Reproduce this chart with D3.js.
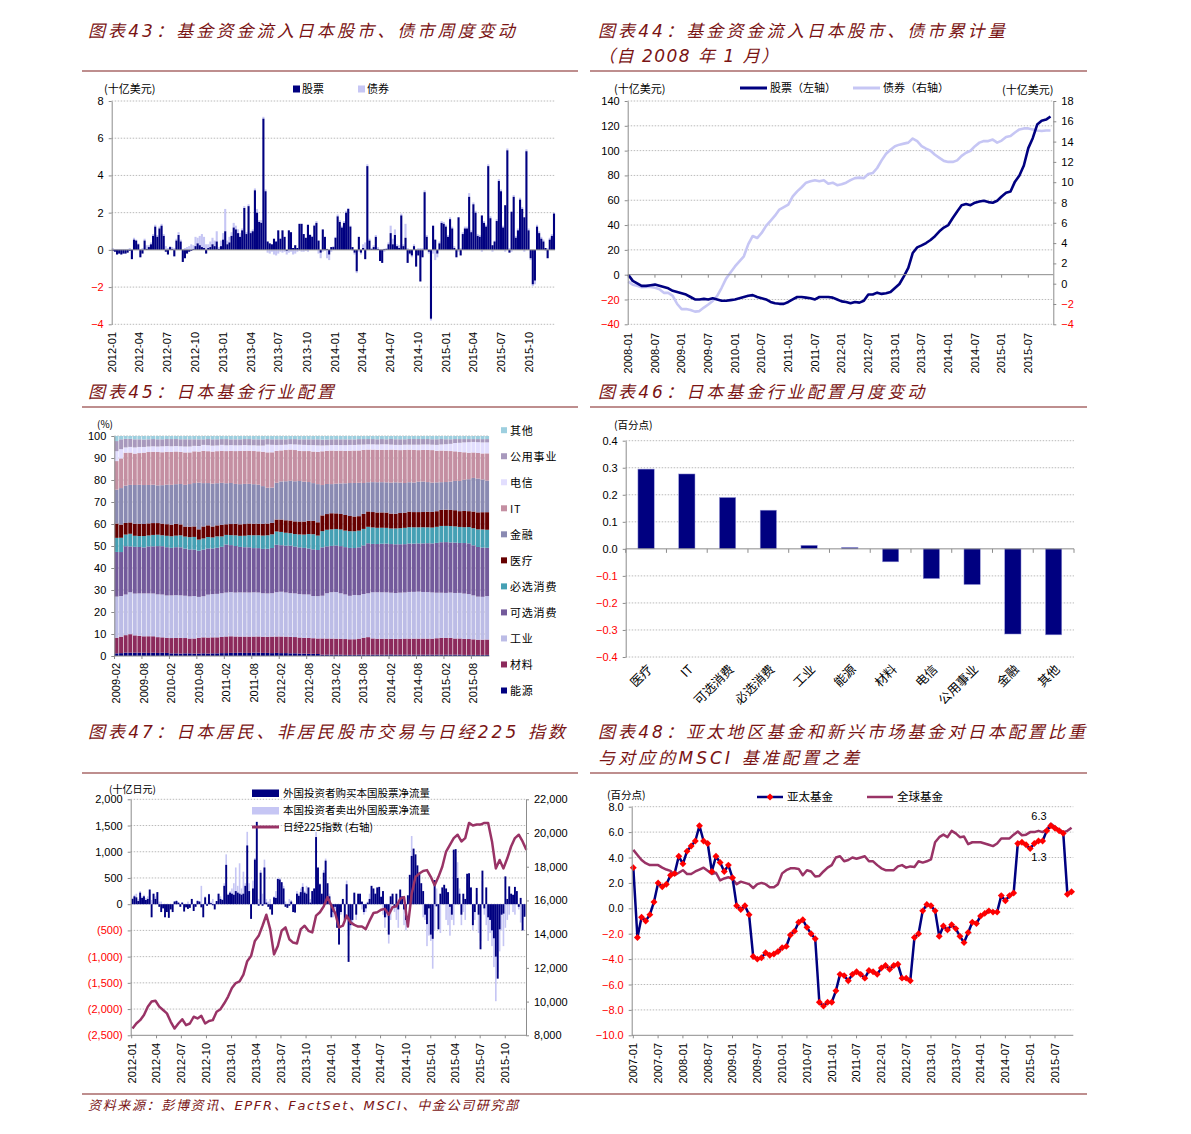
<!DOCTYPE html>
<html>
<head>
<meta charset="utf-8">
<script src="https://cdnjs.cloudflare.com/ajax/libs/d3/7.8.5/d3.min.js"></script>
<style>
  body { margin: 0; background: #fff; }
  text { font-family: "Liberation Sans", Arial, sans-serif; }
  .cn { font-family: "Noto Sans CJK SC", sans-serif; }
  .title { font-family: "DejaVu Sans", "Noto Sans CJK SC", sans-serif; font-style: italic; fill: #7a1414; font-size: 17px; letter-spacing: 3.1px; }
</style>
</head>
<body>
<div id="viz"></div>
<script>
// ---------- 图表43: weekly fund flows (十亿美元), 2012-01 .. 2015-12
var stock43 = [-0.05,-0.1,-0.25,-0.2,-0.25,-0.2,-0.2,-0.15,-0.05,-0.5,
  0.55,0.5,0.3,-0.4,-0.2,0.5,0.05,0.15,0.3,0.75,
  1.25,0.7,1.15,1.3,0.75,-0.1,-0.25,0.15,0.05,-0.35,
  0.5,0.8,0.45,-0.65,-0.45,-0.2,-0.1,-0.05,0.05,0.2,
  0.35,0.25,0.15,0.1,-0.2,0.1,0.15,0.3,0.2,0.45,
  0.05,0.2,0.55,1.0,0.3,0.4,0.75,1.2,1.1,0.9,
  0.7,1.05,2.25,0.85,2.35,0.9,1.0,3.2,2.0,1.5,
  1.45,7.05,3.15,0.45,0.35,0.3,0.6,0.45,1.05,0.6,
  1.05,0.7,-0.05,1.05,0.95,0.1,0.25,0.1,1.4,1.4,
  0.85,0.65,1.35,0.8,0.7,1.3,1.45,0.5,-0.15,1.1,
  0.7,0.05,-0.25,0.15,0.15,0.65,1.8,1.5,1.2,1.45,
  2.0,2.2,1.25,0.15,-0.15,-1.15,0.7,-0.15,0.1,-0.5,
  4.5,0.5,0.05,0.15,0.7,0.05,-0.6,-0.7,0.05,0.05,
  0.3,0.9,0.3,0.8,0.2,0.1,1.85,0.2,0.65,-0.7,
  -0.2,-0.3,0.2,-0.9,-0.3,-1.7,-0.4,3.1,0.7,-0.1,
  -3.7,1.3,0.55,-0.2,0.35,1.45,1.4,1.25,0.7,1.65,
  1.15,0.1,-0.4,1.75,-0.3,0.85,1.15,1.15,2.85,0.95,
  2.45,2.0,0.75,0.7,1.85,1.45,1.25,4.5,1.7,0.25,
  0.45,1.55,3.7,3.15,1.2,2.4,5.35,-0.15,2.05,2.85,
  0.65,1.05,2.7,2.2,1.75,5.3,1.05,-0.45,-1.85,-1.65,
  1.25,0.9,0.6,0.45,0.1,-0.45,0.55,0.75,1.95];
var bond43 = [0.1,0.05,0.05,0.05,0.05,0.05,0.05,0.05,0.1,0.05,0.1,0.05,0.05,0.05,0.1,0.1,0.2,0.1,0.1,0.1,
  0.1,0.1,0.1,0.1,0.1,0.2,0.1,0.05,0.1,0.1,0.1,0.15,0.1,0.05,0.1,0.15,
  0.2,0.3,0.2,0.5,0.3,0.5,0.7,0.6,0.3,0.2,0.3,0.35,0.3,0.55,0.1,0.3,0.35,1.2,0.2,0.3,0.2,0.25,0.2,0.2,0.2,
  0.1,0.1,0.1,0.1,0.1,0.1,0.1,0.2,0.1,0.15,0.1,0.1,-0.15,-0.2,-0.1,-0.25,-0.3,-0.2,-0.1,-0.15,
  -0.1,-0.2,-0.15,-0.1,-0.25,-0.2,-0.1,-0.05,-0.1,-0.1,-0.05,-0.1,0.05,0.05,0.05,0.1,-0.2,-0.3,-0.1,-0.05,
  -0.45,-0.3,-0.1,0.05,0.05,0.1,0.1,0.1,0.1,0.1,0.05,0.05,-0.05,-0.1,-0.1,-0.1,-0.1,0.2,0.4,0.1,0.1,0.05,0.1,0.1,0.1,0.05,0.05,-0.1,0.05,0.1,
  0.4,0.3,0.3,0.1,0.15,0.1,0.1,0.75,0.1,-0.05,-0.1,0.1,0.05,0.1,0.1,0.1,0.1,0.1,-0.1,-0.1,-0.2,-0.55,-0.2,0.1,0.1,0.1,0.1,0.1,0.1,0.1,
  0.1,0.05,-0.1,0.1,0.1,0.1,0.1,0.2,0.1,0.1,0.1,0.1,0.1,-0.1,0.1,0.1,0.1,0.1,-0.1,0.05,
  0.1,0.1,0.1,0.1,-0.1,0.1,0.1,-0.1,0.1,0.1,0.1,0.1,0.1,-0.1,0.1,0.1,-0.1,-0.1,-0.2,0.1,
  0.1,0.1,0.1,-0.05,0.1,0.1,0.1,0.05];
var yTicks43 = [-4, -2, 0, 2, 4, 6, 8];
var xLabels43 = ["2012-01","2012-04","2012-07","2012-10","2013-01","2013-04","2013-07","2013-10",
  "2014-01","2014-04","2014-07","2014-10","2015-01","2015-04","2015-07","2015-10"];

// ---------- 图表44: cumulative flows since 2008-01, monthly
var stock44 = [0,-5,-7,-9,-9,-8.5,-8,-9,-10,-11,-13,-14,
  -15,-16,-18,-20,-20,-19.5,-20,-19,-20,-21,-21,-20.5,
  -20,-19,-18,-17,-16.5,-18,-19,-20,-22,-23,-23.5,-23.5,
  -22,-20,-18,-18,-18.5,-19,-20,-18,-18,-18,-18.5,-20,
  -21.5,-22,-23,-22,-22.5,-21,-16,-16,-14.5,-15.5,-15,-14,
  -10.7,-7.5,-1.3,5.4,17.5,22,23.6,25.5,28,31,35,38,
  40,45.7,51,56,57,56,58,59,59.6,58.5,58,59.6,
  63,66,67,75,80,88,102,110,121,124,125,127.5];
var bond44 = [0.2,-0.1,-0.2,-0.35,-0.33,-0.33,-0.4,-0.55,-0.9,-0.9,
  -1.2,-2.0,-2.5,-2.5,-2.6,-2.75,-2.7,-2.35,-2.05,-1.7,
  -1.2,-0.4,0.5,1.1,1.7,2.2,2.7,3.9,4.7,4.5,
  5.0,5.7,6.2,6.7,7.3,7.55,7.8,8.6,9.1,9.5,
  9.95,10.1,10.2,10.1,10.2,9.85,9.95,9.7,9.8,9.95,
  10.2,10.4,10.45,10.4,10.8,10.9,11.4,12.15,12.8,13.2,
  13.55,13.7,13.8,13.9,14.3,14.05,13.55,13.3,13.1,12.7,
  12.4,12.1,12.0,12.0,12.15,12.6,12.9,13.1,13.55,13.9,
  14.05,14.05,14.2,13.9,14.1,14.45,14.55,14.9,15.2,15.3,
  15.3,15.2,15.1,15.05,15.1,15.1];
var yTicks44L = [-40,-20,0,20,40,60,80,100,120,140];
var yTicks44R = [-4,-2,0,2,4,6,8,10,12,14,16,18];
var xLabels44 = ["2008-01","2008-07","2009-01","2009-07","2010-01","2010-07","2011-01","2011-07",
  "2012-01","2012-07","2013-01","2013-07","2014-01","2014-07","2015-01","2015-07"];

// ---------- 图表45: sector weights (%), monthly 2009-02 .. 2015-11
var energy45 = [1.2,1.3,1.5,1.5,1.5,1.5,1.5,1.4,1.5,1.4, 1.5,1.4,1.2,1.2,1.1,1.2,1.2,1.1,1.1,1.2,
  1.1,1.2,1.2,1.3,1.3,1.4,1.4,1.5,1.4,1.4, 1.5,1.5,1.4,1.4,1.3,1.4,1.3,1.3,1.2,1.2,
  1.1,1.1,1.0,1.0,0.9,0.6,0.6,0.6,0.6,0.6, 0.5,0.5,0.5,0.6,0.6,0.6,0.6,0.6,0.6,0.6,
  0.7,0.6,0.6,0.6,0.6,0.6,0.6,0.6,0.6,0.6, 0.6,0.6,0.6,0.6,0.6,0.6,0.5,0.5,0.5,0.5, 0.5,0.5];
var materials45 = [7.1,7.5,8.0,8.5,7.9,7.7,7.5,7.6,7.5,7.2, 7.0,6.9,7.0,7.1,7.2,7.0,6.8,6.9,7.1,7.2,
  7.3,7.3,7.3,7.3,7.5,7.5,7.4,7.3,7.4,7.4, 7.3,7.3,7.3,7.3,7.5,7.4,7.5,7.4,7.4,7.3,
  7.2,7.1,7.2,7.0,7.0,7.2,7.3,7.3,7.3,7.2, 7.1,7.0,7.0,7.2,7.7,8.0,7.4,7.3,7.3,7.3,
  7.2,7.3,7.3,7.4,7.4,7.4,7.4,7.4,7.4,7.4, 7.6,7.8,7.8,7.7,7.4,7.4,7.3,7.2,7.1,6.9, 6.9,7.0];
var industrial45 = [18.7,18.5,18.5,19.2,19.0,19.4,19.6,19.5,19.5,19.5, 19.5,19.3,19.5,19.6,19.5,19.3,19.3,19.4,18.4,18.5,
  19.5,19.7,19.8,19.8,19.8,19.9,19.8,20.0,20.0,20.0, 20.0,19.8,19.6,19.6,19.7,20.0,20.2,19.8,19.6,19.6,
  19.5,19.6,19.6,19.0,19.1,19.0,20.5,21.0,21.2,20.5, 20.0,19.5,19.8,19.5,19.8,20.0,21.0,21.2,21.2,21.2,
  21.4,21.2,21.3,21.2,21.5,21.5,21.6,21.4,21.4,21.3, 21.0,20.8,20.8,20.8,20.8,20.8,20.6,20.4,20.0,19.5, 19.4,19.8];
var discretionary45 = [20.3,20.0,22.0,21.0,21.3,21.2,21.0,21.4,21.5,22.0, 22.0,22.0,21.7,22.0,22.0,21.5,21.5,21.2,20.8,21.0,
  21.0,20.8,21.0,21.0,21.7,21.2,21.0,20.6,20.5,20.5, 20.0,20.0,20.0,20.2,20.5,21.4,21.0,21.0,21.3,21.0,
  21.0,21.0,20.8,21.0,20.8,21.5,21.2,21.0,21.2,21.3, 21.2,21.5,21.0,21.5,22.0,22.8,22.0,22.0,22.2,22.3,
  22.5,22.5,22.3,22.2,22.3,22.2,22.2,22.3,22.5,22.6, 23.0,23.3,23.5,23.0,23.0,22.8,23.0,23.0,22.8,22.5, 22.3,22.0];
var staples45 = [6.4,6.5,5.3,5.8,5.0,5.0,5.2,5.0,5.2,5.2, 5.0,5.2,5.3,5.3,5.5,5.5,5.6,5.8,5.0,5.0,
  5.2,5.0,5.2,4.7,4.3,4.5,4.8,5.0,5.2,5.5, 5.8,5.8,6.0,6.1,6.2,6.0,6.0,5.8,5.6,5.6,
  5.8,6.0,6.5,6.8,6.5,7.2,7.5,7.5,7.5,7.5, 7.4,7.5,7.5,7.5,7.5,7.5,7.5,7.4,7.3,7.2,
  7.2,7.3,7.4,7.5,7.5,7.5,7.4,7.4,7.3,7.3, 7.4,7.5,7.5,7.5,7.4,7.3,7.2,7.4,7.8,8.0, 8.2,8.2];
var health45 = [6.5,6.0,5.3,5.2,5.5,5.6,5.5,5.5,5.4,5.3, 5.3,5.3,5.3,5.4,5.0,4.6,4.8,4.8,4.6,5.4,
  5.3,5.0,5.0,5.2,4.8,5.0,5.2,5.2,5.3,5.3, 5.2,5.2,5.3,5.3,5.2,5.4,5.6,5.6,5.7,5.7,
  5.8,5.9,6.0,6.0,6.0,7.0,7.1,7.3,7.1,7.0, 7.0,6.8,6.6,6.5,6.8,7.0,7.0,7.0,7.0,7.0,
  6.9,6.8,7.0,7.0,7.2,7.0,7.0,7.0,7.2,7.2, 7.2,7.4,7.5,7.4,7.4,7.2,7.4,7.2,7.6,7.7, 7.8,8.0];
var finance45 = [15.4,16.6,17.0,17.2,17.6,17.8,17.8,17.5,17.5,17.2, 17.5,18.0,18.2,18.2,18.5,19.0,19.5,19.8,21.0,19.5,
  19.2,19.5,19.2,19.0,18.5,18.5,18.0,18.2,18.2,18.0, 17.9,17.6,17.0,16.2,16.0,16.6,17.2,17.5,17.8,18.0,
  18.2,18.0,17.5,17.0,17.2,13.5,13.6,13.2,13.5,13.8, 14.2,14.8,15.0,15.0,14.0,13.3,13.6,13.8,13.8,13.8,
  14.3,14.5,14.0,13.6,13.5,13.6,14.0,14.0,13.6,13.5, 13.3,12.8,12.8,13.0,13.4,13.8,14.2,14.5,15.3,15.3, 14.8,14.4];
var it45 = [13.0,13.5,15.0,14.8,14.3,14.5,14.8,15.0,15.0,15.2, 15.0,15.0,15.0,15.0,14.7,14.8,14.5,14.5,14.0,14.5,
  14.5,14.6,14.6,14.5,14.5,14.5,14.8,15.0,15.0,15.0, 15.0,15.0,15.5,16.0,16.0,14.4,14.0,14.0,14.0,14.0,
  13.5,13.8,14.0,14.2,14.5,15.0,15.0,15.2,15.0,14.8, 14.5,14.5,14.5,14.5,15.0,14.9,14.8,14.8,14.8,14.8,
  15.3,15.0,15.0,15.2,15.0,15.0,14.5,14.5,14.8,15.0, 14.6,14.6,14.5,14.0,13.5,13.2,12.5,12.0,11.6,11.6, 11.8,12.4];
var telecom45 = [4.5,4.2,2.4,2.6,2.8,2.8,2.6,2.5,2.5,2.5, 2.7,2.6,2.6,2.5,2.6,2.7,2.7,2.5,2.5,2.7,
  2.7,2.7,2.6,2.7,2.6,2.6,2.6,2.6,2.6,2.5, 2.6,2.6,2.8,3.5,3.4,2.6,2.5,2.4,2.4,2.5,
  2.8,2.8,2.7,2.9,3.0,2.6,2.5,2.5,2.6,2.5, 2.6,2.6,2.5,2.6,2.4,2.4,2.4,2.4,2.5,2.6,
  2.3,2.3,2.4,2.4,2.3,2.4,2.5,2.5,2.5,2.5, 2.7,2.8,3.0,3.3,3.8,4.2,4.5,4.8,4.8,4.9, 5.0,5.0];
var utilities45 = [4.6,4.5,3.9,3.7,3.7,3.5,3.4,3.3,3.3,3.3, 3.2,3.2,3.3,3.2,3.2,3.3,3.3,3.0,3.0,2.5,
  2.8,2.9,2.8,2.6,2.8,2.6,2.7,2.7,2.7,2.8, 2.7,2.8,2.8,2.5,2.5,2.6,2.5,2.4,2.3,2.4,
  2.4,2.5,2.6,2.6,2.7,2.6,2.6,2.6,2.6,2.6, 2.6,2.5,2.5,2.5,2.5,2.4,2.4,2.4,2.4,2.3,
  2.6,2.6,2.6,2.5,2.6,2.6,2.6,2.5,2.5,2.5, 2.6,2.5,2.3,2.1,1.8,1.7,1.5,1.4,1.3,1.4, 1.5,1.5];
var other45 = [2.3,1.5,1.3,1.3,1.5,1.5,1.6,1.5,1.4,1.5, 1.5,1.4,1.4,1.4,1.5,1.5,1.5,1.5,1.5,1.5,
  1.4,1.5,1.5,1.4,1.4,1.5,1.5,1.5,1.4,1.4, 1.5,1.5,1.5,1.4,1.5,1.5,1.5,1.5,1.4,1.4,
  1.5,1.5,1.5,1.5,1.5,1.6,1.6,1.5,1.5,1.5, 1.5,1.5,1.5,1.4,1.4,1.4,1.4,1.5,1.4,1.5,
  1.4,1.5,1.5,1.5,1.4,1.4,1.4,1.4,1.4,1.5, 1.5,1.4,1.5,1.5,1.4,1.4,1.4,1.4,1.4,1.4, 1.4,1.4];
var sectors45 = ["能源","材料","工业","可选消费","必选消费","医疗","金融","IT","电信","公用事业","其他"];
var xLabels45 = ["2009-02","2009-08","2010-02","2010-08","2011-02","2011-08","2012-02","2012-08",
  "2013-02","2013-08","2014-02","2014-08","2015-02","2015-08"];
var yTicks45 = [0,10,20,30,40,50,60,70,80,90,100];

// ---------- 图表46: monthly change in sector weight (百分点)
var cats46 = ["医疗","IT","可选消费","必选消费","工业","能源","材料","电信","公用事业","金融","其他"];
var vals46 = [0.295,0.277,0.19,0.143,0.013,0.005,-0.048,-0.11,-0.132,-0.315,-0.318];
var yTicks46 = [-0.4,-0.3,-0.2,-0.1,0,0.1,0.2,0.3,0.4];

// ---------- 图表47: weekly flows (十亿日元) and Nikkei 225, 2012-01 .. 2015-12
var foreignBuy47 = [100,150,130,60,220,120,150,80,100,280,
  -250,200,100,230,-50,-150,-80,-250,-150,-260,
  -100,-150,50,60,30,-50,30,-140,-60,-90,
  -70,100,-130,-50,60,50,-60,-250,130,-30,
  190,20,-20,-100,60,200,100,80,350,750,
  180,220,200,180,250,220,200,180,200,350,
  1120,250,-280,300,850,1570,-30,600,-30,700,
  30,-50,-100,-200,130,120,480,470,420,300,
  -50,-70,-30,50,-150,-160,200,160,230,330,
  220,200,320,30,250,300,1280,700,380,200,
  600,830,400,150,-250,-150,-50,-450,-770,-150,
  100,-300,380,-1100,-400,-300,220,-200,200,200,
  50,-150,-80,30,100,350,300,200,320,330,
  140,250,-250,-150,-580,150,200,-50,200,-100,
  280,150,-100,-300,170,560,920,1060,950,740,
  600,400,250,-200,-380,-80,-580,-660,460,-40,
  -480,200,320,370,300,230,-50,-200,1040,1050,
  500,200,-200,200,100,580,590,320,-400,-150,
  310,-200,-860,640,-80,320,-250,-300,-500,-650,
  -1000,-1420,-480,-200,-180,530,100,340,200,180,
  330,250,-50,120,-500,-240];
var domesticSell47 = [120,180,200,100,250,150,180,120,150,230,80,200,150,230,50,
  50,-50,-120,-100,-200,-80,-100,60,80,30,-40,40,-60,-30,50,-50,100,-80,-30,80,60,
  350,-100,150,30,200,50,100,-60,50,200,150,100,
  400,950,200,250,300,400,700,350,780,300,620,400,1380,400,-100,
  450,880,1400,100,650,200,850,100,50,100,-100,
  150,250,500,500,400,350,50,-50,100,80,-100,-100,250,200,300,400,250,350,300,100,250,300,
  1380,600,400,150,650,870,350,200,-200,-250,-100,-350,-500,-200,50,
  -350,450,-600,-500,-400,200,-300,100,150,-100,-200,-150,50,200,300,280,200,300,300,150,
  -200,-450,-250,-750,-300,150,-150,-300,-450,250,100,-400,-500,150,500,1300,900,800,500,300,
  300,-250,-300,-800,-600,-700,-1230,-500,300,-300,-550,150,250,-300,-400,-600,-300,-400,900,800,
  300,-400,-150,-300,400,450,200,-500,-300,200,-550,-700,450,-200,-400,-700,-550,-800,-1200,-1850,
  -1300,-900,-500,-800,-450,-300,-200,200,-150,-200,150,-100,-350,-300,-200];
// Nikkei 225, one reading every two weeks
var nikkei47 = [8400,8700,8900,9200,9700,10000,10050,9700,9500,9300,
  8800,8400,8700,8950,8600,8700,9100,9000,9150,8700,
  8850,8900,9400,9550,9900,10300,10800,11100,11200,11600,
  12400,12700,13600,13900,14500,15150,14300,12800,13300,14200,
  14400,13700,13500,13450,14300,14500,14200,14100,15100,15300,
  15650,16200,15700,15250,14400,14500,15100,14700,14550,14450,
  14450,14300,14800,15250,15300,15450,15500,15150,15600,15650,
  16100,16200,14450,16400,17400,17600,17750,17800,17400,16900,
  17400,18000,18900,19300,19700,19900,19500,19700,20600,20450,
  20500,20500,20600,20600,19500,17900,18400,17900,18500,19200,
  19700,19900,19500,19000];
var yTicks47L = [-2500,-2000,-1500,-1000,-500,0,500,1000,1500,2000];
var yTicks47R = [8000,10000,12000,14000,16000,18000,20000,22000];
var xLabels47 = xLabels43;

// ---------- 图表48: allocation vs MSCI benchmark (百分点), monthly 2007-01 .. 2015-11
var asiaPac48 = [3.2,-2.3,-0.7,-1.0,-0.5,0.5,2.0,1.7,1.9,2.6,2.75,4.1,
  3.5,4.5,4.9,5.3,6.5,5.3,5.1,2.9,4.1,3.6,2.9,3.4,
  2.4,0.2,-0.1,0.2,-0.5,-3.8,-4.0,-3.9,-3.5,-3.7,-3.6,-3.4,
  -3.1,-3.0,-2.1,-1.8,-1.1,-0.9,-1.5,-2.0,-2.4,-7.4,-7.7,-7.4,
  -7.4,-6.5,-5.2,-5.3,-5.7,-5.2,-5.0,-5.2,-5.5,-4.9,-5.0,-5.2,
  -4.7,-4.5,-4.8,-4.5,-4.4,-5.5,-5.5,-5.7,-2.3,-2.0,-0.2,0.3,
  0.2,-0.2,-2.2,-1.4,-1.7,-1.3,-1.6,-2.2,-2.7,-1.9,-1.1,-1.2,
  -0.6,-0.4,-0.2,-0.3,-0.3,1.0,0.6,1.0,1.2,5.1,5.2,5.0,
  4.7,5.1,5.3,5.3,6.1,6.5,6.3,6.1,5.9,1.1,1.3];
var global48 = [4.6,4.2,3.8,3.55,3.4,3.4,3.4,3.2,3.05,2.95,2.6,2.8,
  3.0,2.7,2.7,2.9,3.05,3.2,2.95,2.7,2.8,2.2,2.35,2.45,
  2.3,1.9,2.1,2.0,1.9,1.6,1.9,2.0,1.9,1.65,1.65,1.9,
  2.75,3.0,3.15,3.15,3.1,2.6,3.0,2.9,2.5,2.55,2.9,3.2,
  3.4,4.0,4.1,3.7,3.8,4.0,3.9,4.0,4.1,3.7,3.7,3.4,
  3.15,3.0,3.0,3.0,3.3,3.4,3.2,3.3,3.25,3.7,3.6,3.7,
  3.85,5.2,5.6,5.8,5.6,6.1,5.9,5.6,5.65,5.05,5.2,5.2,
  5.2,5.1,5.0,4.9,5.1,5.5,5.5,5.5,5.8,6.05,5.75,5.8,
  6.0,6.0,6.1,6.0,6.2,6.65,6.4,6.2,6.0,6.1,6.35];
var yTicks48 = [-10,-8,-6,-4,-2,0,2,4,6,8];
var xLabels48 = ["2007-01","2007-07","2008-01","2008-07","2009-01","2009-07","2010-01","2010-07","2011-01",
  "2011-07","2012-01","2012-07","2013-01","2013-07","2014-01","2014-07","2015-01","2015-07"];

// ---------------------------------------------------------------
var NAVY = "#000080", LAV = "#c6c6f4", PLUM = "#993366", RED = "#ff0000", AX = "#8c8c8c";
var svg = d3.select("#viz").append("svg").attr("width", 1191).attr("height", 1134);
var parseM = d3.timeParse("%Y-%m");
function monthIndex(s, y0, m0) { var p = s.split("-"); return (+p[0] - y0) * 12 + (+p[1] - m0); }

function title(x, y, txt) {
  return svg.append("text").attr("class", "title").attr("x", x).attr("y", y).text(txt);
}
function rule(x1, x2, y) {
  svg.append("line").attr("x1", x1).attr("x2", x2).attr("y1", y).attr("y2", y)
    .attr("stroke", "#7f1f1f").attr("stroke-width", 1.2);
}
function grid(scale, ticks, x0, x1) {
  svg.append("g").selectAll("line").data(ticks).join("line")
    .attr("x1", x0).attr("x2", x1).attr("y1", d => scale(d)).attr("y2", d => scale(d))
    .attr("stroke", "#a8a8a8").attr("stroke-width", 0.8).attr("stroke-dasharray", "1.5,1.5");
}
function yAxis(scale, x, ticks, fmt, right) {
  var ax = (right ? d3.axisRight(scale) : d3.axisLeft(scale))
    .tickValues(ticks).tickFormat(fmt).tickSize(3).tickSizeOuter(0).tickPadding(5);
  var g = svg.append("g").attr("transform", "translate(" + x + ",0)").call(ax);
  g.select(".domain").attr("stroke", AX);
  g.selectAll(".tick line").attr("stroke", AX);
  g.selectAll(".tick text").attr("font-size", 11).attr("font-family", "Liberation Sans, Arial, sans-serif")
    .attr("fill", d => d < 0 ? RED : "#000");
  return g;
}
function hLine(x0, x1, y) {
  svg.append("line").attr("x1", x0).attr("x2", x1).attr("y1", y).attr("y2", y)
    .attr("stroke", AX).attr("stroke-width", 1);
}
function xTicks(xs, y, len) {
  svg.append("g").selectAll("line").data(xs).join("line")
    .attr("x1", d => d).attr("x2", d => d).attr("y1", y).attr("y2", y + len)
    .attr("stroke", AX);
}
function rotLabels(data, xf, y) {
  svg.append("g").selectAll("text").data(data).join("text")
    .attr("transform", d => "translate(" + xf(d) + "," + y + ") rotate(-90)")
    .attr("text-anchor", "end").attr("dy", "0.35em").attr("font-size", 11).text(d => d);
}
function cnText(x, y, txt, size, anchor) {
  return svg.append("text").attr("class", "cn").attr("x", x).attr("y", y).attr("dy", "0.35em")
    .attr("font-size", size || 11).attr("text-anchor", anchor || "start").text(txt);
}

// ---------------- titles & rules
title(88, 37, "图表43：基金资金流入日本股市、债市周度变动");
title(598, 37, "图表44：基金资金流入日本股市、债市累计量");
title(598, 62, "（自 2008 年 1 月）").style("letter-spacing", "1.5px");
rule(82, 578, 71); rule(590, 1087, 71);
title(88, 398, "图表45：日本基金行业配置");
title(598, 398, "图表46：日本基金行业配置月度变动");
rule(82, 578, 407); rule(590, 1087, 407);
title(88, 738, "图表47：日本居民、非居民股市交易与日经225 指数");
title(598, 738, "图表48：亚太地区基金和新兴市场基金对日本配置比重");
title(598, 764, "与对应的MSCI 基准配置之差");
rule(82, 578, 773); rule(590, 1087, 773);
rule(82, 1087, 1094);
title(88, 1110, "资料来源：彭博资讯、EPFR、FactSet、MSCI、中金公司研究部")
  .style("font-size", "13px").style("letter-spacing", "1.65px");

// ---------------- 图表43
(function () {
  var y = d3.scaleLinear().domain([-4, 8]).range([324.3, 101]);
  var x = d3.scaleLinear().domain([0, stock43.length - 1]).range([112.8, 554]);
  var t = d3.scaleTime().domain([new Date(2012, 0, 1), new Date(2015, 11, 24)]).range([111.7, 555]);
  grid(y, yTicks43.filter(d => d !== 0), 111.7, 555);
  var g = svg.append("g");
  g.selectAll(".bd").data(bond43).join("rect")
    .attr("x", (d, i) => x(i) - 1.05).attr("width", 2.1)
    .attr("y", (d, i) => { var s = stock43[i], b = s * d > 0 ? s : 0; return y(Math.max(b, b + d)); })
    .attr("height", d => Math.abs(y(0) - y(d)))
    .attr("fill", LAV);
  g.selectAll(".st").data(stock43).join("rect")
    .attr("x", (d, i) => x(i) - 1.05).attr("width", 2.1)
    .attr("y", d => y(Math.max(0, d))).attr("height", d => Math.abs(y(d) - y(0)))
    .attr("fill", NAVY);
  hLine(111.7, 555, y(0));
  yAxis(y, 111.7, yTicks43, d3.format("d"));
  rotLabels(xLabels43, d => t(parseM(d)), 332);
  cnText(104, 89, "(十亿美元)");
  svg.append("rect").attr("x", 293).attr("y", 85.5).attr("width", 7).attr("height", 7).attr("fill", NAVY);
  cnText(302, 89, "股票");
  svg.append("rect").attr("x", 358).attr("y", 85.5).attr("width", 7).attr("height", 7).attr("fill", LAV);
  cnText(367, 89, "债券");
})();

// ---------------- 图表44
(function () {
  var yL = d3.scaleLinear().domain([-40, 140]).range([324.3, 101]);
  var yR = d3.scaleLinear().domain([-4, 18]).range([324.3, 101]);
  var x = d3.scaleLinear().domain([0, 90]).range([628.3, 1028.3]);
  grid(yL, yTicks44L.filter(d => d !== 0), 627.7, 1053.3);
  var lineR = d3.line().x((d, i) => x(i)).y(d => yR(d));
  var lineL = d3.line().x((d, i) => x(i)).y(d => yL(d));
  svg.append("path").datum(bond44).attr("d", lineR).attr("fill", "none")
    .attr("stroke", LAV).attr("stroke-width", 2.6).attr("stroke-linejoin", "round");
  svg.append("path").datum(stock44).attr("d", lineL).attr("fill", "none")
    .attr("stroke", NAVY).attr("stroke-width", 2.6).attr("stroke-linejoin", "round");
  hLine(627.7, 1053.3, yL(0));
  xTicks(xLabels44.map(s => x(monthIndex(s, 2008, 1))), yL(0), 3);
  yAxis(yL, 627.7, yTicks44L, d3.format("d"));
  yAxis(yR, 1053.3, yTicks44R, d3.format("d"), true);
  rotLabels(xLabels44, d => x(monthIndex(d, 2008, 1)), 333);
  cnText(614, 89, "(十亿美元)");
  cnText(1002, 90, "(十亿美元)");
  svg.append("line").attr("x1", 740).attr("x2", 767).attr("y1", 88).attr("y2", 88).attr("stroke", NAVY).attr("stroke-width", 3);
  cnText(770, 88, "股票（左轴）");
  svg.append("line").attr("x1", 853).attr("x2", 880).attr("y1", 88).attr("y2", 88).attr("stroke", LAV).attr("stroke-width", 3);
  cnText(883, 88, "债券（右轴）");
})();

// ---------------- 图表45
(function () {
  var series = [energy45, materials45, industrial45, discretionary45, staples45, health45,
    finance45, it45, telecom45, utilities45, other45];
  var colors = ["#000080", "#8c2a5c", "#bcbce6", "#735a9b", "#45a0b4", "#660000",
    "#8a8ab2", "#c48fa2", "#e2defe", "#a899bd", "#9dcfdf"];
  var rows = d3.range(energy45.length).map(i => {
    var o = {}; sectors45.forEach((k, j) => o[k] = series[j][i]); return o;
  });
  var stacked = d3.stack().keys(sectors45).offset(d3.stackOffsetExpand)(rows);
  var x = d3.scaleBand().domain(d3.range(rows.length)).range([114.3, 489.3]).paddingInner(0.14).paddingOuter(0.05);
  var y = d3.scaleLinear().domain([0, 1]).range([656, 436]);
  var yP = d3.scaleLinear().domain([0, 100]).range([656, 436]);
  grid(yP, yTicks45.filter(d => d > 0), 114.3, 489.3);
  svg.append("g").selectAll("g").data(stacked).join("g").attr("fill", (d, i) => colors[i])
    .selectAll("rect").data(d => d).join("rect")
    .attr("x", (d, i) => x(i)).attr("width", x.bandwidth())
    .attr("y", d => y(d[1])).attr("height", d => y(d[0]) - y(d[1]));
  hLine(114.3, 489.3, 656);
  xTicks(xLabels45.map((s, i) => x(i * 6)), 656, 3);
  yAxis(yP, 114.3, yTicks45, d3.format("d"));
  rotLabels(xLabels45, d => x(xLabels45.indexOf(d) * 6) + x.bandwidth() / 2, 663);
  cnText(97, 424, "(%)", 10);
  var leg = sectors45.slice().reverse();
  var lcol = colors.slice().reverse();
  leg.forEach((k, i) => {
    var yy = 430.7 + i * 26.03;
    svg.append("rect").attr("x", 501).attr("y", yy - 3.5).attr("width", 6).attr("height", 6).attr("fill", lcol[i]);
    cnText(510, yy, k, 11).attr("letter-spacing", 0.8);
  });
})();

// ---------------- 图表46
(function () {
  var y = d3.scaleLinear().domain([-0.4, 0.4]).range([657, 440.7]);
  var x = d3.scaleBand().domain(cats46).range([625.7, 1074]).paddingInner(0.6).paddingOuter(0.3);
  grid(y, yTicks46.filter(d => d !== 0), 625.7, 1074);
  svg.append("g").selectAll("rect").data(vals46).join("rect")
    .attr("x", (d, i) => x(cats46[i])).attr("width", x.bandwidth())
    .attr("y", d => y(Math.max(0, d))).attr("height", d => Math.abs(y(d) - y(0)))
    .attr("fill", NAVY).attr("stroke", "#9a9ad8").attr("stroke-width", 0.5);
  hLine(625.7, 1074, y(0));
  xTicks(d3.range(cats46.length + 1).map(i => 625.7 + i * x.step()), y(0), 4);
  yAxis(y, 625.7, yTicks46, d3.format(".1f"));
  svg.append("g").selectAll("text").data(cats46).join("text").attr("class", "cn")
    .attr("transform", d => "translate(" + (x(d) + x.bandwidth() / 2 + 4) + ",667) rotate(-45)")
    .attr("text-anchor", "end").attr("dy", "0.35em").attr("font-size", 12.5).text(d => d);
  cnText(614, 425, "(百分点)", 10.5);
})();

// ---------------- 图表47
(function () {
  var yL = d3.scaleLinear().domain([-2500, 2000]).range([1035.3, 799.3]);
  var yR = d3.scaleLinear().domain([8000, 22000]).range([1035.3, 799.3]);
  var x = d3.scaleLinear().domain([0, foreignBuy47.length - 1]).range([132.5, 524.5]);
  var t = d3.scaleTime().domain([new Date(2012, 0, 1), new Date(2015, 11, 16)]).range([131.7, 526]);
  grid(yL, yTicks47L.filter(d => d > -2500), 130.7, 526);
  svg.append("g").selectAll("rect").data(domesticSell47).join("rect")
    .attr("x", (d, i) => x(i) - 0.8).attr("width", 1.6)
    .attr("y", d => yL(Math.max(0, d))).attr("height", d => Math.abs(yL(d) - yL(0)))
    .attr("fill", LAV);
  svg.append("g").selectAll("rect").data(foreignBuy47).join("rect")
    .attr("x", (d, i) => x(i) - 0.95).attr("width", 1.9)
    .attr("y", d => yL(Math.max(0, d))).attr("height", d => Math.abs(yL(d) - yL(0)))
    .attr("fill", NAVY);
  var line = d3.line().x((d, i) => x(i * 2)).y(d => yR(d));
  svg.append("path").datum(nikkei47).attr("d", line).attr("fill", "none")
    .attr("stroke", PLUM).attr("stroke-width", 2.5).attr("stroke-linejoin", "round");
  hLine(130.7, 526, 1035.3);
  xTicks(xLabels47.map(s => t(parseM(s))), 1035.3, 3);
  var fmt = d3.format(",");
  yAxis(yL, 130.7, yTicks47L, d => d < 0 ? "(" + fmt(-d) + ")" : fmt(d));
  yAxis(yR, 526, yTicks47R, fmt, true);
  rotLabels(xLabels47, d => t(parseM(d)), 1043);
  cnText(109, 789, "(十亿日元)", 10);
  svg.append("rect").attr("x", 252).attr("y", 789.5).attr("width", 27).attr("height", 7.5).attr("fill", NAVY);
  cnText(283, 793, "外国投资者购买本国股票净流量", 10.5);
  svg.append("rect").attr("x", 252).attr("y", 807).attr("width", 27).attr("height", 7.5).attr("fill", LAV);
  cnText(283, 810.5, "本国投资者卖出外国股票净流量", 10.5);
  svg.append("line").attr("x1", 252).attr("x2", 279).attr("y1", 827).attr("y2", 827).attr("stroke", PLUM).attr("stroke-width", 3);
  cnText(283, 827.5, "日经225指数 (右轴)", 10.5);
})();

// ---------------- 图表48
(function () {
  var y = d3.scaleLinear().domain([-10, 8]).range([1035.3, 806.7]);
  var x = d3.scaleLinear().domain([0, 102]).range([633.3, 1055]);
  grid(y, yTicks48.filter(d => d > -10), 631.7, 1073.3);
  var line = d3.line().x((d, i) => x(i)).y(d => y(d));
  svg.append("path").datum(global48).attr("d", line).attr("fill", "none")
    .attr("stroke", PLUM).attr("stroke-width", 2.5).attr("stroke-linejoin", "round");
  svg.append("path").datum(asiaPac48).attr("d", line).attr("fill", "none")
    .attr("stroke", NAVY).attr("stroke-width", 2.5).attr("stroke-linejoin", "round");
  var sym = d3.symbol().type(d3.symbolSquare).size(24);
  svg.append("g").selectAll("path").data(asiaPac48).join("path")
    .attr("d", sym).attr("transform", (d, i) => "translate(" + x(i) + "," + y(d) + ") rotate(45)")
    .attr("fill", RED);
  hLine(631.7, 1073.3, 1035.3);
  xTicks(xLabels48.map(s => x(monthIndex(s, 2007, 1))), 1035.3, 3);
  yAxis(y, 631.7, yTicks48, d3.format(".1f"));
  rotLabels(xLabels48, d => x(monthIndex(d, 2007, 1)), 1043);
  cnText(607, 795, "(百分点)", 10.5);
  svg.append("line").attr("x1", 757).attr("x2", 783).attr("y1", 797).attr("y2", 797).attr("stroke", NAVY).attr("stroke-width", 2.5);
  svg.append("path").attr("d", sym).attr("transform", "translate(770,797) rotate(45)").attr("fill", RED);
  cnText(787, 797, "亚太基金", 11.5);
  svg.append("line").attr("x1", 867).attr("x2", 893).attr("y1", 797).attr("y2", 797).attr("stroke", PLUM).attr("stroke-width", 2.5);
  cnText(897, 797, "全球基金", 11.5);
  svg.append("text").attr("x", 1039).attr("y", 816).attr("dy", "0.35em").attr("text-anchor", "middle").attr("font-size", 11).text("6.3");
  svg.append("text").attr("x", 1039).attr("y", 857).attr("dy", "0.35em").attr("text-anchor", "middle").attr("font-size", 11).text("1.3");
})();
</script>
</body>
</html>
